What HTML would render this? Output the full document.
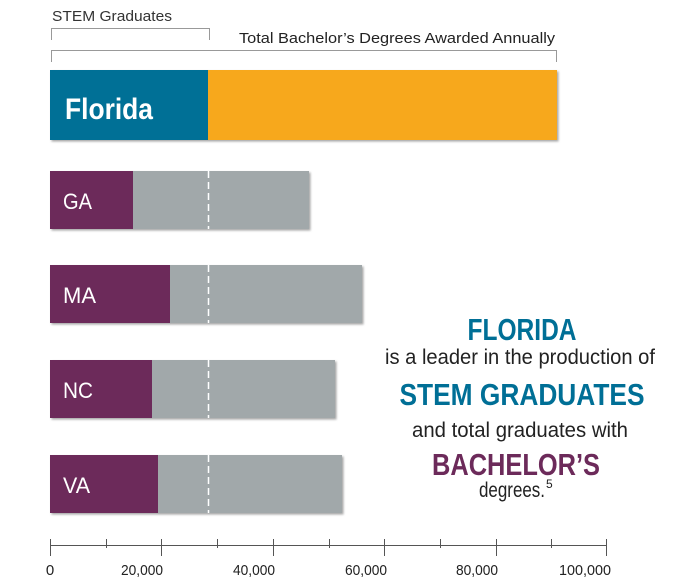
<!DOCTYPE html>
<html><head><meta charset="utf-8"><style>
html,body{margin:0;padding:0;background:#fff;}
svg{display:block;font-family:"Liberation Sans Narrow","Liberation Sans",sans-serif;}
</style></head><body>
<svg width="700" height="581" viewBox="0 0 700 581" xmlns="http://www.w3.org/2000/svg">
<defs><filter id="sh" x="-5%" y="-5%" width="110%" height="120%"><feDropShadow dx="1.5" dy="1.5" stdDeviation="1" flood-color="#000" flood-opacity="0.35"/></filter></defs>
<text x="52" y="21" font-size="15" fill="#333" textLength="120" lengthAdjust="spacingAndGlyphs">STEM Graduates</text>
<path d="M51.5 40 V28.5 H209.5 V40" fill="none" stroke="#999" stroke-width="1"/>
<text x="239" y="43" font-size="15" fill="#222" textLength="316" lengthAdjust="spacingAndGlyphs">Total Bachelor’s Degrees Awarded Annually</text>
<path d="M51.5 62 V50.5 H556.5 V62" fill="none" stroke="#999" stroke-width="1"/>

<g filter="url(#sh)">
<rect x="50" y="70" width="507" height="70" fill="#f7a81e"/>
<rect x="50" y="70" width="158" height="70" fill="#006f96"/>
<rect x="50" y="171" width="259" height="58" fill="#a1a8aa"/>
<rect x="50" y="171" width="83" height="58" fill="#6c2a5a"/>
<rect x="50" y="265" width="312" height="58" fill="#a1a8aa"/>
<rect x="50" y="265" width="120" height="58" fill="#6c2a5a"/>
<rect x="50" y="360" width="285" height="58" fill="#a1a8aa"/>
<rect x="50" y="360" width="102" height="58" fill="#6c2a5a"/>
<rect x="50" y="455" width="292" height="58" fill="#a1a8aa"/>
<rect x="50" y="455" width="108" height="58" fill="#6c2a5a"/>
</g>
<g stroke="#fff" stroke-width="1.5" stroke-dasharray="7,4">
<line x1="208.5" y1="171" x2="208.5" y2="229"/>
<line x1="208.5" y1="265" x2="208.5" y2="323"/>
<line x1="208.5" y1="360" x2="208.5" y2="418"/>
<line x1="208.5" y1="455" x2="208.5" y2="513"/>
</g>
<text x="65" y="119" font-size="30" font-weight="bold" fill="#fff" textLength="88" lengthAdjust="spacingAndGlyphs">Florida</text>
<g font-size="22" fill="#fff">
<text x="63" y="209" textLength="29" lengthAdjust="spacingAndGlyphs">GA</text>
<text x="63" y="303" textLength="33" lengthAdjust="spacingAndGlyphs">MA</text>
<text x="63" y="398" textLength="30" lengthAdjust="spacingAndGlyphs">NC</text>
<text x="63" y="493" textLength="27" lengthAdjust="spacingAndGlyphs">VA</text>
</g>

<g font-size="21" fill="#222" text-anchor="middle">
<text x="522" y="340" font-size="31" font-weight="bold" fill="#006f96" textLength="109" lengthAdjust="spacingAndGlyphs">FLORIDA</text>
<text x="520" y="364" textLength="270" lengthAdjust="spacingAndGlyphs">is a leader in the production of</text>
<text x="522" y="405" font-size="31" font-weight="bold" fill="#006f96" textLength="245" lengthAdjust="spacingAndGlyphs">STEM GRADUATES</text>
<text x="520" y="437" textLength="216" lengthAdjust="spacingAndGlyphs">and total graduates with</text>
<text x="516" y="475" font-size="31" font-weight="bold" fill="#6c2a5a" textLength="168" lengthAdjust="spacingAndGlyphs">BACHELOR’S</text>
<text x="512" y="497" textLength="66" lengthAdjust="spacingAndGlyphs">degrees.</text>
</g>
<text x="546" y="488" font-size="12" fill="#222">5</text>

<g stroke="#555" stroke-width="1">
<line x1="50" y1="545.5" x2="607" y2="545.5"/>
<line x1="50.5" y1="539" x2="50.5" y2="556"/>
<line x1="106.5" y1="539" x2="106.5" y2="548"/>
<line x1="161.5" y1="539" x2="161.5" y2="556"/>
<line x1="217.5" y1="539" x2="217.5" y2="548"/>
<line x1="273.5" y1="539" x2="273.5" y2="556"/>
<line x1="329.5" y1="539" x2="329.5" y2="548"/>
<line x1="384.5" y1="539" x2="384.5" y2="556"/>
<line x1="440.5" y1="539" x2="440.5" y2="548"/>
<line x1="496.5" y1="539" x2="496.5" y2="556"/>
<line x1="551.5" y1="539" x2="551.5" y2="548"/>
<line x1="606.5" y1="539" x2="606.5" y2="556"/>
</g>
<g font-size="15" fill="#222" text-anchor="middle">
<text x="50" y="575">0</text>
<text x="142" y="575" textLength="42" lengthAdjust="spacingAndGlyphs">20,000</text>
<text x="254" y="575" textLength="42" lengthAdjust="spacingAndGlyphs">40,000</text>
<text x="366" y="575" textLength="42" lengthAdjust="spacingAndGlyphs">60,000</text>
<text x="477" y="575" textLength="42" lengthAdjust="spacingAndGlyphs">80,000</text>
<text x="585" y="575" textLength="52" lengthAdjust="spacingAndGlyphs">100,000</text>
</g>
</svg>
</body></html>
